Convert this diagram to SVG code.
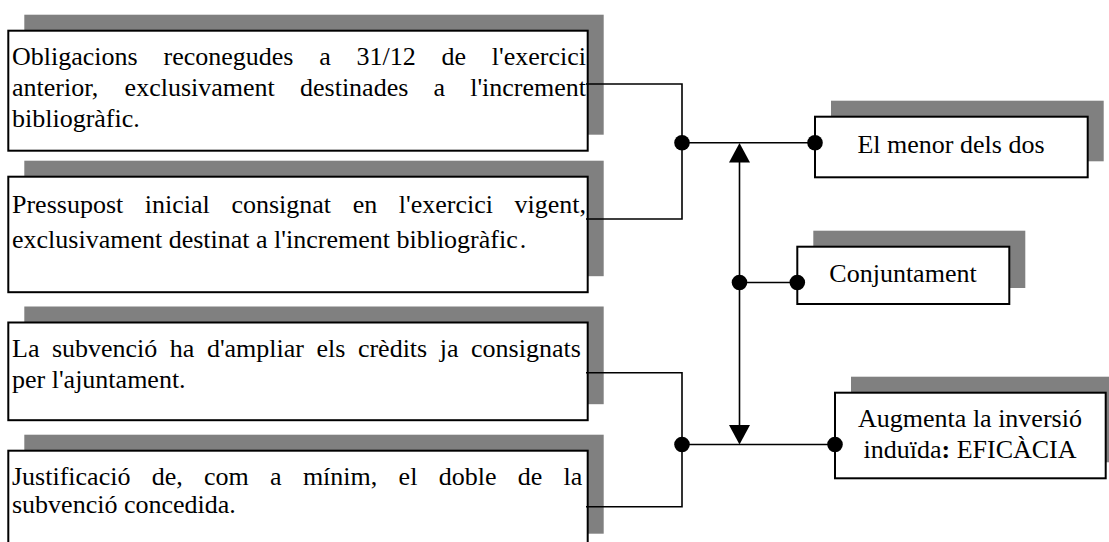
<svg xmlns="http://www.w3.org/2000/svg" width="1109" height="542" viewBox="0 0 1109 542">
<style>
.bg{fill:#ffffff}
.sh{fill:#808080;stroke:none}
.bx{fill:#ffffff;stroke:#000000;stroke-width:2}
.t{font-family:"Liberation Serif","Times New Roman",serif;font-size:26px;fill:#000000}
.c{text-anchor:middle}
.ln{fill:none;stroke:#000000;stroke-width:1.6}
.dot{fill:#000000}
.arr{fill:#000000}
</style>
<rect class="bg" x="0" y="0" width="1109" height="542"/>

<g id="node-obligacions">
<rect class="sh" x="24.3" y="14.7" width="579.4" height="120"/>
<rect class="bx" x="8.3" y="30.7" width="579.4" height="120"/>
<text class="t" y="65"><tspan x="12">Obligacions</tspan><tspan x="163.5">reconegudes</tspan><tspan x="319.2">a</tspan><tspan x="356.5">31/12</tspan><tspan x="441.5">de</tspan><tspan x="491.8">l'exercici</tspan></text>
<text class="t" y="96"><tspan x="12">anterior,</tspan><tspan x="124.6">exclusivament</tspan><tspan x="300">destinades</tspan><tspan x="433.5">a</tspan><tspan x="470.2">l'increment</tspan></text>
<text class="t" x="12" y="127">bibliogràfic.</text>
</g>

<g id="node-pressupost">
<rect class="sh" x="24.3" y="160.7" width="579.4" height="115.5"/>
<rect class="bx" x="8.3" y="176.7" width="579.4" height="115.5"/>
<text class="t" y="213"><tspan x="12">Pressupost</tspan><tspan x="144.8">inicial</tspan><tspan x="231.4">consignat</tspan><tspan x="352.7">en</tspan><tspan x="398.8">l'exercici</tspan><tspan x="514.6">vigent,</tspan></text>
<text class="t" x="12" y="248">exclusivament destinat a l'increment bibliogràfic<tspan dx="2">.</tspan></text>
</g>

<g id="node-subvencio">
<rect class="sh" x="24.3" y="306.5" width="579.4" height="97.7"/>
<rect class="bx" x="8.3" y="322.5" width="579.4" height="97.7"/>
<text class="t" y="357"><tspan x="12">La</tspan><tspan x="51.9">subvenció</tspan><tspan x="169.8">ha</tspan><tspan x="206.9">d'ampliar</tspan><tspan x="316.5">els</tspan><tspan x="357.9">crèdits</tspan><tspan x="439.7">ja</tspan><tspan x="471">consignats</tspan></text>
<text class="t" x="12" y="388">per l'ajuntament.</text>
</g>

<g id="node-justificacio">
<rect class="sh" x="24.3" y="434.7" width="579.4" height="99"/>
<rect class="bx" x="8.3" y="450.7" width="579.4" height="99"/>
<text class="t" y="485"><tspan x="12">Justificació</tspan><tspan x="151.7">de,</tspan><tspan x="204">com</tspan><tspan x="270.1">a</tspan><tspan x="302.9">mínim,</tspan><tspan x="398.6">el</tspan><tspan x="438.7">doble</tspan><tspan x="517.8">de</tspan><tspan x="563.6">la</tspan></text>
<text class="t" x="12" y="513">subvenció concedida.</text>
</g>

<g id="node-menor">
<rect class="sh" x="831" y="100.7" width="272.7" height="60.6"/>
<rect class="bx" x="815" y="116.7" width="272.7" height="60.6"/>
<text class="t c" x="951" y="153">El menor dels dos</text>
</g>

<g id="node-conjuntament">
<rect class="sh" x="813.3" y="230.7" width="212" height="57.3"/>
<rect class="bx" x="797.3" y="246.7" width="212" height="57.3"/>
<text class="t c" x="903" y="282">Conjuntament</text>
</g>

<g id="node-augmenta">
<rect class="sh" x="851" y="376.7" width="270.7" height="85.6"/>
<rect class="bx" x="835" y="392.7" width="270.7" height="85.6"/>
<text class="t c" x="970" y="427.3">Augmenta la inversió</text>
<text class="t c" x="970" y="458.3">induïda<tspan font-weight="bold">:</tspan> EFICÀCIA</text>
</g>

<g id="connectors">
<path class="ln" d="M586,84 H682 V219 H586"/>
<path class="ln" d="M586,372.7 H682 V506.7 H586"/>
<path class="ln" d="M682,142.7 H815"/>
<path class="ln" d="M682,444.5 H835"/>
<path class="ln" d="M739.5,162 V426"/>
<path class="ln" d="M739.5,282.5 H797.3"/>
<polygon class="arr" points="739.5,143 729,162.5 750,162.5"/>
<polygon class="arr" points="739.5,444.5 729,425 750,425"/>
<circle class="dot" cx="682" cy="142.7" r="7.8"/>
<circle class="dot" cx="815" cy="142.7" r="7.8"/>
<circle class="dot" cx="739.5" cy="282.5" r="7.8"/>
<circle class="dot" cx="797.3" cy="282.5" r="7.8"/>
<circle class="dot" cx="682" cy="444.5" r="7.8"/>
<circle class="dot" cx="835" cy="444.5" r="7.8"/>
</g>
</svg>
